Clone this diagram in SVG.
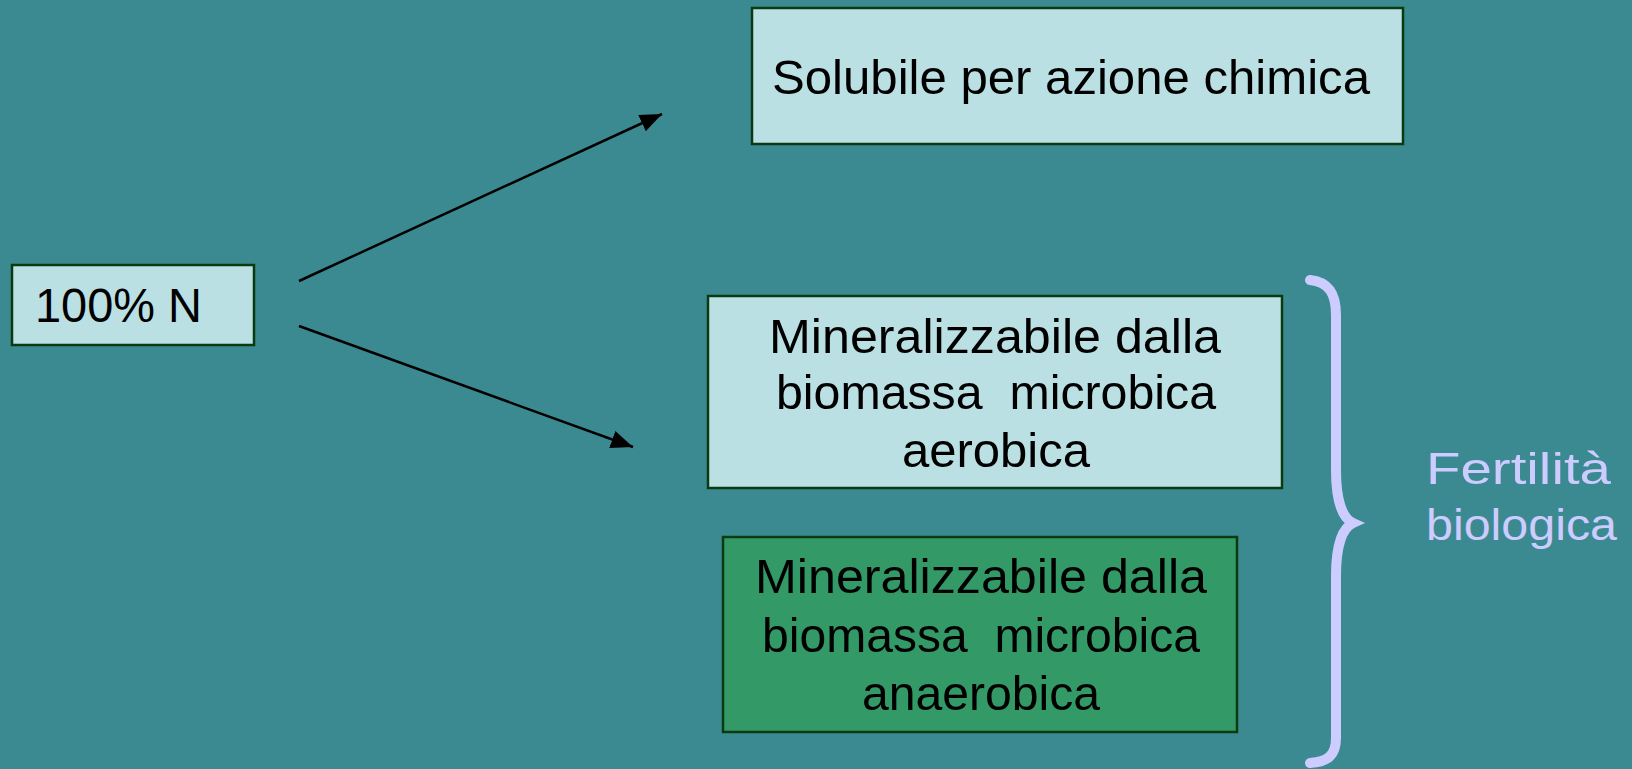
<svg xmlns="http://www.w3.org/2000/svg" width="1632" height="769" viewBox="0 0 1632 769">
<style>
.box{stroke:#0a3a10;stroke-width:2.5}
.light{fill:#bae0e3}
.green{fill:#339966}
.t{font-family:"Liberation Sans",Arial,sans-serif;font-size:48px;fill:#000}
.lav{font-family:"Liberation Sans",Arial,sans-serif;font-size:45px;fill:#ccccff}
.conn{stroke:#000;stroke-width:2.5;fill:none;marker-end:url(#ah)}
</style>
<defs>
<marker id="ah" markerUnits="userSpaceOnUse" markerWidth="24" markerHeight="20" refX="22" refY="9" orient="auto">
<path d="M0,0 L22,9 L0,18 Z" fill="#000"/>
</marker>
</defs>
<rect width="1632" height="769" fill="#3c8a91"/>
<g id="connectors">
<line class="conn" x1="299" y1="281" x2="662" y2="114"/>
<line class="conn" x1="299" y1="326" x2="633" y2="447"/>
</g>
<g id="n100">
<rect class="box light" x="12" y="265" width="242" height="80"/>
<text class="t" x="35" y="322" font-size="47" textLength="167" lengthAdjust="spacingAndGlyphs">100% N</text>
</g>
<g id="solubile">
<rect class="box light" x="752" y="8" width="651" height="136"/>
<text class="t" x="772" y="94" font-size="47" textLength="598" lengthAdjust="spacingAndGlyphs">Solubile per azione chimica</text>
</g>
<g id="aerobica">
<rect class="box light" x="708" y="296" width="574" height="192"/>
<text class="t" x="769" y="353" textLength="452" lengthAdjust="spacingAndGlyphs">Mineralizzabile dalla</text>
<text class="t" x="776" y="409" xml:space="preserve" textLength="440" lengthAdjust="spacingAndGlyphs">biomassa  microbica</text>
<text class="t" x="902" y="467" textLength="188" lengthAdjust="spacingAndGlyphs">aerobica</text>
</g>
<g id="anaerobica">
<rect class="box green" x="723" y="537" width="514" height="195"/>
<text class="t" x="755" y="593" textLength="452" lengthAdjust="spacingAndGlyphs">Mineralizzabile dalla</text>
<text class="t" x="762" y="652" xml:space="preserve" textLength="438" lengthAdjust="spacingAndGlyphs">biomassa  microbica</text>
<text class="t" x="862" y="710" textLength="238" lengthAdjust="spacingAndGlyphs">anaerobica</text>
</g>
<g id="brace">
<path d="M1310,280 C1330,282 1336,295 1336,315 L1336,470 C1336,500 1342,518 1353,523 C1342,528 1336,546 1336,576 L1336,738 C1336,755 1328,762 1310,763" fill="none" stroke="#ccccff" stroke-width="10" stroke-linecap="round"/>
</g>
<g id="fertilita">
<text class="lav" x="1426" y="484" textLength="185" lengthAdjust="spacingAndGlyphs">Fertilità</text>
<text class="lav" x="1426" y="540" textLength="191" lengthAdjust="spacingAndGlyphs">biologica</text>
</g>
</svg>
